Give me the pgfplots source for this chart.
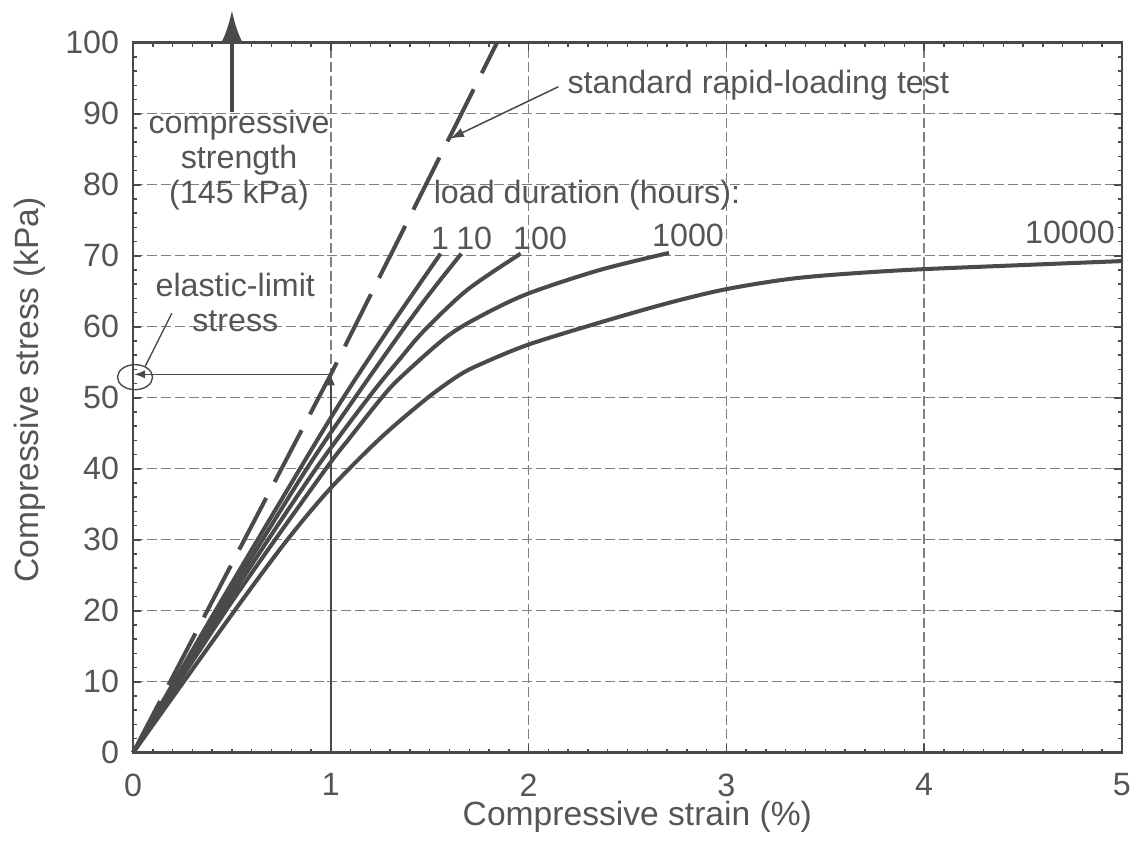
\documentclass[border=0pt]{standalone}
\usepackage{fontspec}
\setmainfont{Liberation Sans}
\usepackage{pgfplots}
\pgfplotsset{compat=1.18}
\usetikzlibrary{arrows.meta}

\definecolor{ink}{HTML}{4A4A4A}
\definecolor{txt}{HTML}{555555}
\definecolor{gridc}{HTML}{808080}
\newcommand{\lab}{\fontsize{11.6}{12.6}\selectfont}
\newcommand{\axlab}{\fontsize{12.1}{13}\selectfont}

\begin{document}
\begin{tikzpicture}
\begin{axis}[
  scale only axis, width=356pt, height=255.6pt,
  xmin=0, xmax=5, ymin=0, ymax=100,
  xtick={0,1,2,3,4,5}, ytick={0,10,...,100},
  minor x tick num=9, minor y tick num=4,
  tick align=inside, major tick length=3pt, minor tick length=1.5pt,
  axis line style={ink, line width=1pt},
  every tick/.append style={ink, line width=0.6pt},
  every minor tick/.append style={ink, line width=0.5pt},
  grid=major,
  major grid style={gridc, line width=0.5pt, dash pattern=on 3.6pt off 1.4pt},
  ticklabel style={font=\lab, text=txt},
  /pgf/number format/assume math mode=true,
  xticklabel style={inner sep=1pt, yshift=-6.3pt},
  yticklabel style={xshift=-1.5pt},
  clip=false,
  curve/.style={ink, line width=1.45pt, smooth},
]
\coordinate (sw) at (rel axis cs:0,0);

% standard rapid-loading test
\addplot[ink, line width=1.45pt, dash pattern=on 21pt off 6.5pt] coordinates {(0,0)(1,53.3)(1.84,100)};

% 1 h
\addplot[curve] coordinates {(0,0)(0.4,19.2)(0.844,40)(1.063,50)(1.30,60)(1.555,70.3)};
% 10 h
\addplot[curve] coordinates {(0,0)(0.5,23)(0.878,40)(1.122,50)(1.375,60)(1.52,65.4)(1.66,70.3)};
% 100 h
\addplot[curve] coordinates {(0,0)(0.5,22.2)(0.912,39.5)(1.19,50)(1.35,55.5)(1.47,59.4)(1.69,65.2)(1.96,70.3)};
% 1000 h
\addplot[curve] coordinates {(0,0)(0.5,21.3)(0.962,39.5)(1.1,44.5)(1.257,50)(1.35,52.8)(1.586,58.6)(1.771,61.7)(2.0,64.7)(2.36,68.0)(2.71,70.4)};
% 10000 h
\addplot[curve] coordinates {(0,0)(0.5,19.5)(0.78,30)(1.0,37.3)(1.25,44.3)(1.485,49.9)(1.65,53.2)(1.771,54.9)(2.0,57.5)(2.36,60.6)(2.7,63.3)(3.0,65.3)(3.37,66.9)(3.88,67.95)(4.55,68.75)(5.0,69.25)};

% elastic limit
\draw[ink, line width=0.6pt, -{Latex[length=4pt,width=3pt]}] (axis cs:1,53.3) -- (axis cs:0.005,53.3);
\draw[ink, line width=0.6pt, -{Latex[length=4pt,width=3pt]}] (axis cs:1,0) -- (axis cs:1,53.3);
\draw[ink, line width=0.5pt] (axis cs:0.01,52.9) ellipse [x radius=6.3pt, y radius=4.5pt];
\draw[ink, line width=0.5pt] (axis cs:0.196,61.9) -- (axis cs:0.061,54.4);
\node[font=\lab, text=txt, align=center] at (axis cs:0.517,63.4) {elastic-limit\\stress};

% compressive strength
\draw[ink, line width=1.4pt, -{Latex[length=11.5pt,width=7.5pt]}] (axis cs:0.5,90.2) -- (axis cs:0.5,104.6);
\node[font=\lab, text=txt, align=center] at (axis cs:0.536,83.5) {compressive\\strength\\(145 kPa)};

% rapid-loading label
\draw[ink, line width=0.55pt, -{Latex[length=5pt,width=3.5pt]}] (axis cs:2.15,93.8) -- (axis cs:1.603,86.5);
\node[font=\lab, text=txt, anchor=west, inner sep=0pt] at (axis cs:2.194,94) {standard rapid-loading test};

% load duration labels
\node[font=\lab, text=txt, anchor=west, inner sep=0pt] at (axis cs:1.518,78.55) {load duration (hours):};
\node[font=\lab, text=txt] at (axis cs:1.552,72.5) {1};
\node[font=\lab, text=txt] at (axis cs:1.725,72.5) {10};
\node[font=\lab, text=txt] at (axis cs:2.058,72.5) {100};
\node[font=\lab, text=txt] at (axis cs:2.806,72.9) {1000};
\node[font=\lab, text=txt] at (axis cs:4.737,73.3) {10000};

% axis labels
\node[font=\axlab, text=txt, rotate=90] at ([xshift=-37pt]rel axis cs:0,0.511) {Compressive stress (kPa)};
\node[font=\axlab, text=txt, anchor=north, inner sep=0pt] at ([yshift=-17.2pt]rel axis cs:0.51,0) {Compressive strain (\%)};
\end{axis}
\pgfresetboundingbox
\path (sw) ++(-47.9pt,-31.8pt) rectangle ++(410.4pt,302.8pt);
\end{tikzpicture}
\end{document}
